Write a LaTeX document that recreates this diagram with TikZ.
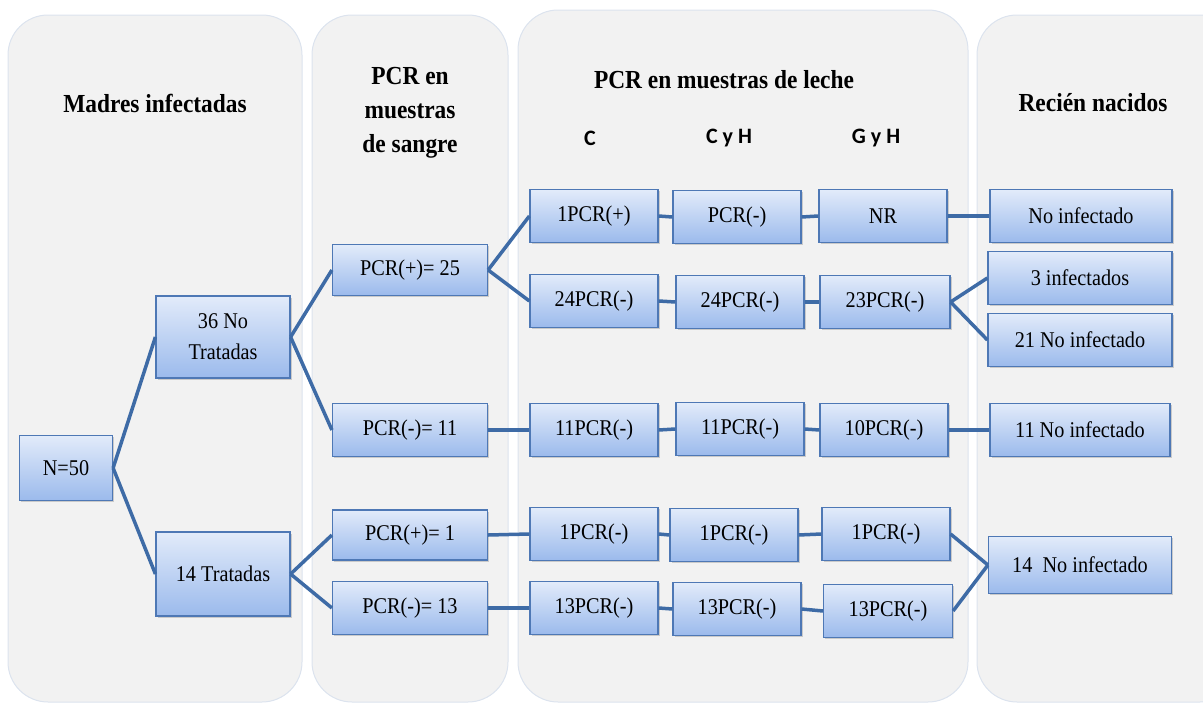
\documentclass[tikz,border=0pt]{standalone}
\usepackage{fontspec}
\setmainfont{Liberation Serif}
\newfontfamily\boxfont[FakeStretch=0.9]{Liberation Serif}
\newfontfamily\calib{Carlito}
\usetikzlibrary{shadows}
\definecolor{panelfill}{HTML}{F2F2F2}
\definecolor{paneldraw}{HTML}{DCE3EE}
\definecolor{boxtop}{HTML}{E2EBFA}
\definecolor{boxbot}{HTML}{9BBAEC}
\definecolor{boxdraw}{HTML}{4E78B5}
\definecolor{linkc}{HTML}{3E6BA6}
\tikzset{
  panel/.style={fill=panelfill, draw=paneldraw, line width=1pt, rounded corners=40pt},
  hdr/.style={font=\boxfont\fontsize{26}{34}\selectfont\bfseries, align=center},
  sub/.style={font=\calib\fontsize{22}{26}\selectfont\bfseries},
  bx/.style={draw=boxdraw, line width=1.2pt, top color=boxtop, bottom color=boxbot,
    minimum height=53pt, inner sep=0pt, align=center,
    font=\boxfont\fontsize{22.5}{31}\selectfont,
    drop shadow={shadow xshift=1.5pt, shadow yshift=-1.5pt, opacity=0.35}},
  lk/.style={draw=linkc, line width=3.5pt}
}
\begin{document}
\begin{tikzpicture}[x=1pt,y=-1pt]
\useasboundingbox (0,0) rectangle (1203,704);
% panels
\path[panel] (8,15) rectangle (302,702);
\path[panel] (312,15) rectangle (508,702);
\path[panel] (518,10) rectangle (968,702);
\path[panel] (977,15) rectangle (1240,702);
% headers
\node[hdr] (h1) at (155,103) {Madres infectadas};
\node[hdr] (h2) at (410,113) {PCR en\\muestras\\de sangre};
\node[hdr] (h3) at (724,80) {PCR en muestras de leche};
\node[hdr] (h4) at (1093,103) {Recién nacidos};
\node[sub] (s1) at (590,138) {C};
\node[sub] (s2) at (729,138) {C\ y\ H};
\node[sub] (s3) at (876,138) {G\ y\ H};
% boxes
\node[bx, minimum width=93pt, minimum height=65pt] (n50) at (66,468) {N=50};
\node[bx, minimum width=134pt, minimum height=82pt] (nt) at (223,337) {36 No\\Tratadas};
\node[bx, minimum width=134pt, minimum height=84pt] (tr) at (223,574) {14 Tratadas};
\node[bx, minimum width=155pt, minimum height=51pt] (p25) at (410,270) {PCR(+)= 25};
\node[bx, minimum width=155pt] (m11) at (410,430) {PCR(-)= 11};
\node[bx, minimum width=155pt, minimum height=50pt] (p1) at (410,535) {PCR(+)= 1};
\node[bx, minimum width=155pt] (m13) at (410,608) {PCR(-)= 13};
% column C
\node[bx, minimum width=128pt] (c1) at (594,216) {1PCR(+)};
\node[bx, minimum width=128pt] (c2) at (594,301) {24PCR(-)};
\node[bx, minimum width=128pt] (c3) at (594,430) {11PCR(-)};
\node[bx, minimum width=128pt] (c4) at (594,534) {1PCR(-)};
\node[bx, minimum width=128pt] (c5) at (594,608) {13PCR(-)};
% column CyH
\node[bx, minimum width=128pt] (d1) at (737,217) {PCR(-)};
\node[bx, minimum width=128pt] (d2) at (740,302) {24PCR(-)};
\node[bx, minimum width=128pt] (d3) at (740,429) {11PCR(-)};
\node[bx, minimum width=128pt] (d4) at (734,535) {1PCR(-)};
\node[bx, minimum width=128pt] (d5) at (737,609) {13PCR(-)};
% column GyH
\node[bx, minimum width=128pt] (g1) at (883,216) {NR};
\node[bx, minimum width=130pt] (g2) at (885,302) {23PCR(-)};
\node[bx, minimum width=128pt] (g3) at (884,430) {10PCR(-)};
\node[bx, minimum width=128pt] (g4) at (886,534) {1PCR(-)};
\node[bx, minimum width=129pt] (g5) at (888,611) {13PCR(-)};
% newborns
\node[bx, minimum width=182pt] (r1) at (1081,216) {No infectado};
\node[bx, minimum width=184pt] (r2) at (1080,278) {3 infectados};
\node[bx, minimum width=184pt] (r3) at (1080,340) {21 No infectado};
\node[bx, minimum width=180pt] (r4) at (1080,430) {11 No infectado};
\node[bx, minimum width=183pt, minimum height=57pt] (r5) at (1080,565) {14\ \ No infectado};
% links
\path[lk] (n50.east) -- (nt.west);
\path[lk] (n50.east) -- (tr.west);
\path[lk] (nt.east) -- (p25.west);
\path[lk] (nt.east) -- (m11.west);
\path[lk] (tr.east) -- (p1.west);
\path[lk] (tr.east) -- (m13.west);
\path[lk] (p25.east) -- (c1.west);
\path[lk] (p25.east) -- (c2.west);
\path[lk] (m11.east) -- (c3.west);
\path[lk] (p1.east) -- (c4.west);
\path[lk] (m13.east) -- (c5.west);
\path[lk] (c1.east) -- (d1.west);
\path[lk] (c2.east) -- (d2.west);
\path[lk] (c3.east) -- (d3.west);
\path[lk] (c4.east) -- (d4.west);
\path[lk] (c5.east) -- (d5.west);
\path[lk] (d1.east) -- (g1.west);
\path[lk] (d2.east) -- (g2.west);
\path[lk] (d3.east) -- (g3.west);
\path[lk] (d4.east) -- (g4.west);
\path[lk] (d5.east) -- (g5.west);
\path[lk] (g1.east) -- (r1.west);
\path[lk] (g2.east) -- (r2.west);
\path[lk] (g2.east) -- (r3.west);
\path[lk] (g3.east) -- (r4.west);
\path[lk] (g4.east) -- (r5.west);
\path[lk] (g5.east) -- (r5.west);
\end{tikzpicture}
\end{document}
